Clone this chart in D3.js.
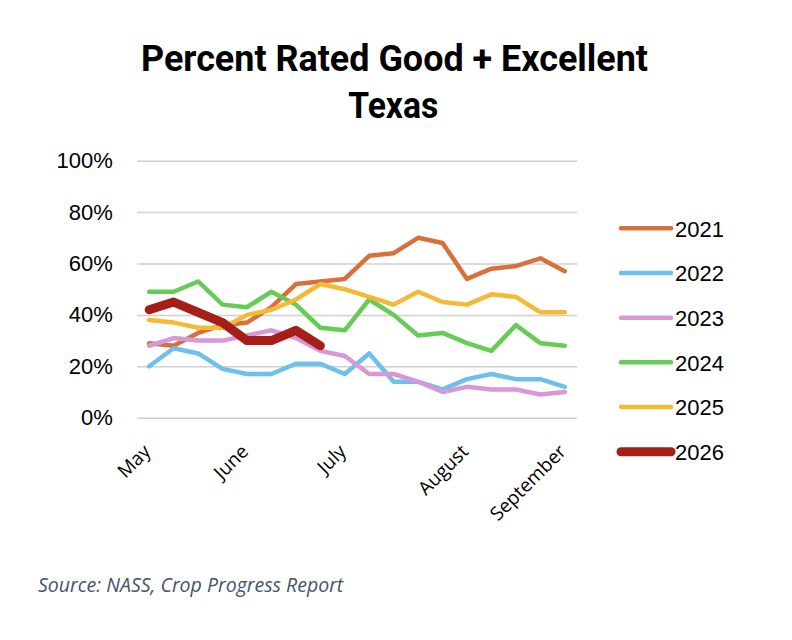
<!DOCTYPE html>
<html>
<head>
<meta charset="utf-8">
<script src="https://cdn.jsdelivr.net/npm/d3@7"></script>
<style>
  html, body { margin: 0; padding: 0; background: #fff; }
  svg { display: block; }
</style>
</head>
<body>
<svg id="chart" width="792" height="640"></svg>
<script>
// ---- data ----
const weeks = [1,2,3,4,5,6,7,8,9,10,11,12,13,14,15,16,17,18];
const monthLabels = ["May","","","","June","","","","July","","","","","August","","","","September"];
const yTicks = [0, 0.2, 0.4, 0.6, 0.8, 1.0];
const years = ["2021","2022","2023","2024","2025","2026"];
const v2021 = [29,28,33,36,37,43,52,53,54,63,64,70,68,54,58,59,62,57];
const v2022 = [20,27,25,19,17,17,21,21,17,25,14,14,11,15,17,15,15,12];
const v2023 = [28,31,30,30,32,34,31,26,24,17,17,14,10,12,11,11,9,10];
const v2024 = [49,49,53,44,43,49,44,35,34,46,40,32,33,29,26,36,29,28];
const v2025 = [38,37,35,35,40,42,46,52,50,47,44,49,45,44,48,47,41,41];
const v2026 = [42,45,41,37,30,30,34,28];
const colors = ["#D9703C","#6EC0EC","#D898D8","#66CC55","#F4B935","#A51F16"];
const widths = [4.5,4.5,4.5,4.5,4.5,9];
const titleLines = ["Percent Rated Good + Excellent","Texas"];
const sourceText = "Source: NASS, Crop Progress Report";

const seriesValues = [v2021, v2022, v2023, v2024, v2025, v2026];
const series = years.map((yr, i) => ({
  name: yr, color: colors[i], width: widths[i],
  points: seriesValues[i].map((v, j) => ({ week: weeks[j], value: v / 100 }))
}));

// ---- layout ----
const svg = d3.select("#chart");
const plotLeft = 137, plotRight = 577, plotTop = 160.7, plotBottom = 417.7;

const x = d3.scalePoint().domain(weeks).range([plotLeft, plotRight]).padding(0.5);
const y = d3.scaleLinear().domain([0, 1]).range([plotBottom, plotTop]);

// title
svg.append("text")
  .attr("x", 394.5).attr("y", 70.7)
  .attr("text-anchor", "middle")
  .attr("font-family", "Roboto, 'Liberation Sans', sans-serif")
  .attr("font-weight", 700).attr("font-size", 36)
  .attr("textLength", 507).attr("lengthAdjust", "spacingAndGlyphs")
  .attr("fill", "#000")
  .text(titleLines[0]);
svg.append("text")
  .attr("x", 393.3).attr("y", 118.3)
  .attr("text-anchor", "middle")
  .attr("font-family", "Roboto, 'Liberation Sans', sans-serif")
  .attr("font-weight", 700).attr("font-size", 36)
  .attr("textLength", 90).attr("lengthAdjust", "spacingAndGlyphs")
  .attr("fill", "#000")
  .text(titleLines[1]);

// y axis + gridlines
const yAxis = svg.append("g")
  .attr("transform", `translate(${plotLeft},0)`)
  .call(d3.axisLeft(y).tickValues(yTicks).tickFormat(d3.format(".0%"))
    .tickSize(-(plotRight - plotLeft)).tickPadding(24.3));
yAxis.select(".domain").remove();
yAxis.selectAll(".tick line").attr("stroke", "#D0D0D0").attr("stroke-width", 1.5);
yAxis.selectAll(".tick text")
  .attr("font-family", "'Liberation Sans', Arial, sans-serif")
  .attr("font-size", 22).attr("fill", "#000");

// x axis labels
const xAxis = svg.append("g")
  .attr("transform", `translate(0,${plotBottom})`)
  .call(d3.axisBottom(x).tickSize(0).tickFormat((d, i) => monthLabels[i]));
xAxis.select(".domain").remove();
xAxis.selectAll(".tick text")
  .attr("font-family", "'Open Sans', sans-serif")
  .attr("font-size", 19).attr("fill", "#000")
  .attr("text-anchor", "end")
  .attr("y", 0).attr("dy", 0)
  .attr("transform", "translate(2,35) rotate(-45)");

// lines
const line = d3.line().x(d => x(d.week)).y(d => y(d.value));
svg.append("g").selectAll("path").data(series).join("path")
  .attr("d", d => line(d.points))
  .attr("fill", "none")
  .attr("stroke", d => d.color)
  .attr("stroke-width", d => d.width)
  .attr("stroke-linejoin", "round")
  .attr("stroke-linecap", "round");

// legend
const legend = svg.append("g");
const ly = d3.scaleLinear().domain([0, 5]).range([228.3, 451.7]);
series.forEach((s, i) => {
  legend.append("line")
    .attr("x1", 621).attr("x2", 671)
    .attr("y1", ly(i)).attr("y2", ly(i))
    .attr("stroke", s.color).attr("stroke-width", s.width)
    .attr("stroke-linecap", "round");
  legend.append("text")
    .attr("x", 675).attr("y", ly(i) + 8.2)
    .attr("font-family", "'Liberation Sans', Arial, sans-serif")
    .attr("font-size", 22).attr("fill", "#000")
    .text(s.name);
});

// source
svg.append("text")
  .attr("x", 38).attr("y", 591.5)
  .attr("font-family", "'Open Sans', sans-serif")
  .attr("font-style", "italic").attr("font-size", 19.5)
  .attr("fill", "#44546A")
  .text(sourceText);
</script>
</body>
</html>
